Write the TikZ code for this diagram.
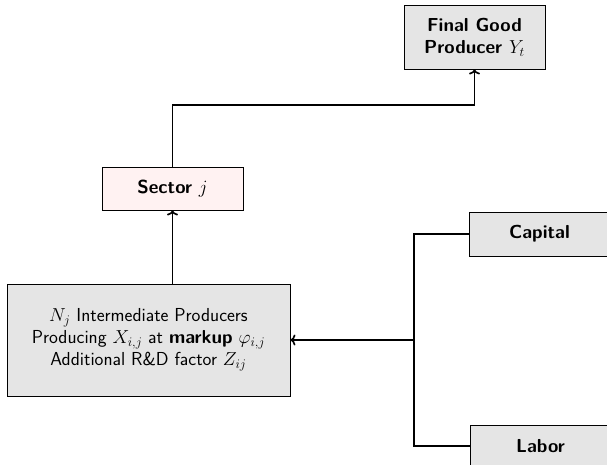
\RequirePackage{fix-cm}
\documentclass[tikz,border=0pt]{standalone}
\usepackage{fontspec}
\usetikzlibrary{arrows.meta}
\begin{document}
\begin{tikzpicture}[x=1pt,y=-1pt,
  box/.style={draw=black, line width=0.9pt, fill=gray!20, align=center, inner sep=0pt,
    font=\fontsize{18.8}{22}\selectfont\sffamily},
  bbox/.style={box, font=\fontsize{18.8}{22}\selectfont\sffamily\bfseries},
  conn/.style={line width=1.7pt},
  arr/.style={conn, -{To[length=5pt,width=11pt]}}]
\useasboundingbox (0,0) rectangle (607,464);
\node[bbox, minimum width=141pt, minimum height=64pt] (final) at (474.5,37) {Final Good\\Producer $Y_t$};
\node[bbox, fill=red!5, minimum width=141pt, minimum height=43pt] (sector) at (172.5,188.5) {Sector $j$};
\node[box, minimum width=283pt, minimum height=112pt] (big) at (148.5,340) {$N_j$ Intermediate Producers\\Producing $X_{i,j}$ at \textbf{markup} $\varphi_{i,j}$\\Additional R\&D factor $Z_{ij}$};
\node[bbox, minimum width=141pt, minimum height=44pt] (capital) at (539.5,234) {Capital};
\node[bbox, minimum width=141pt, minimum height=42pt] (labor) at (540.5,446) {Labor};
\coordinate (bend) at (172.5,105);
\coordinate (junc) at (414,340);
\draw[arr] (sector.north) -- (bend) -| (final.south);
\draw[arr] (big.north -| sector.south) -- (sector.south);
\draw[conn] (capital.west) -| (junc);
\draw[conn] (labor.west) -| (junc);
\draw[arr] (junc) -- (big.east);
\end{tikzpicture}
\end{document}
